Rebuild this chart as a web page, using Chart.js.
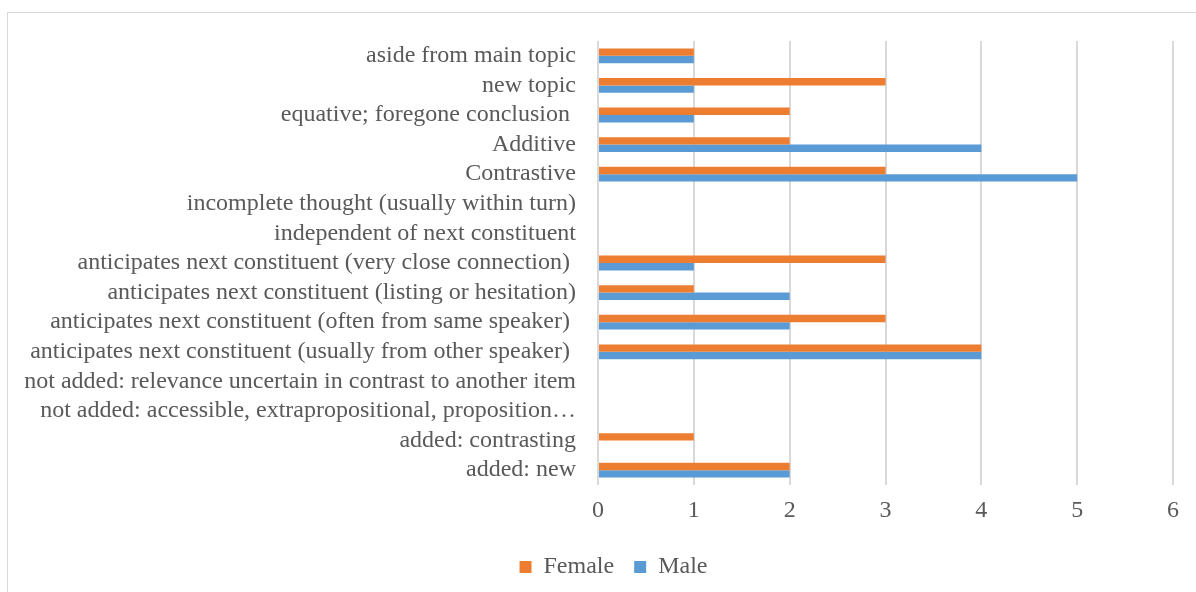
<!DOCTYPE html>
<html>
<head>
<meta charset="utf-8">
<script src="https://cdn.jsdelivr.net/npm/chart.js@4/dist/chart.umd.min.js"></script>
<style>
  html, body { margin: 0; padding: 0; background: #ffffff; overflow: hidden; }
  #wrap { position: relative; width: 1196px; height: 592px; }
  #frame {
    position: absolute; left: 7px; top: 12px; width: 1400px; height: 800px;
    border: 1.5px solid #d9d9d9; box-sizing: border-box;
  }
  canvas { position: absolute; left: 0; top: 0; }
</style>
</head>
<body>
<div id="wrap">
  <div id="frame"></div>
  <canvas id="chart" width="1196" height="592"></canvas>
</div>
<script>
// Categories, top to bottom
const categories = [
  "aside from main topic",
  "new topic",
  "equative; foregone conclusion ",
  "Additive",
  "Contrastive",
  "incomplete thought (usually within turn)",
  "independent of next constituent",
  "anticipates next constituent (very close connection) ",
  "anticipates next constituent (listing or hesitation)",
  "anticipates next constituent (often from same speaker) ",
  "anticipates next constituent (usually from other speaker) ",
  "not added: relevance uncertain in contrast to another item",
  "not added: accessible, extrapropositional, proposition\u2026",
  "added: contrasting",
  "added: new"
];

const femaleCounts = [1, 3, 2, 2, 3, 0, 0, 3, 1, 3, 4, 0, 0, 1, 2];
const maleCounts   = [1, 1, 1, 4, 5, 0, 0, 1, 2, 2, 4, 0, 0, 0, 2];

const seriesNames = ["Female", "Male"];
const xTicks = [0, 1, 2, 3, 4, 5, 6];

const FONT = "'Liberation Serif', 'Times New Roman', serif";
const TEXT = "#595959";
const GRID = "#d9d9d9";

// Centre the legend under the plot rather than under the whole canvas
const legendShift = {
  id: "legendShift",
  afterLayout(chart) {
    if (chart.legend) chart.legend.left += 54;
  }
};

new Chart(document.getElementById("chart"), {
  type: "bar",
  data: {
    labels: categories,
    datasets: [
      { label: seriesNames[0], data: femaleCounts, backgroundColor: "#ed7d31", borderWidth: 0 },
      { label: seriesNames[1], data: maleCounts, backgroundColor: "#5b9bd5", borderWidth: 0 }
    ]
  },
  options: {
    indexAxis: "y",
    responsive: false,
    animation: false,
    maintainAspectRatio: false,
    datasets: { bar: { categoryPercentage: 0.5, barPercentage: 1.0 } },
    layout: { padding: { left: 0, top: 41, right: 23, bottom: 3 } },
    scales: {
      x: {
        min: xTicks[0],
        max: xTicks[xTicks.length - 1],
        afterBuildTicks: (scale) => { scale.ticks = xTicks.map(v => ({ value: v })); },
        grid: { color: GRID, lineWidth: 2, drawTicks: false },
        border: { display: false },
        ticks: { color: TEXT, font: { family: FONT, size: 24 }, padding: 11 },
        afterFit: (scale) => { scale.height = 50; }
      },
      y: {
        grid: { display: false, drawTicks: false },
        border: { display: false },
        ticks: { color: TEXT, font: { family: FONT, size: 24 }, padding: 22, autoSkip: false },
        afterFit: (scale) => { scale.width = 598; }
      }
    },
    plugins: {
      legend: {
        position: "bottom",
        maxHeight: 59,
        labels: {
          color: TEXT,
          font: { family: FONT, size: 24 },
          boxWidth: 12,
          boxHeight: 12,
          padding: 20
        }
      },
      tooltip: { enabled: false }
    }
  },
  plugins: [legendShift]
});
</script>
</body>
</html>
